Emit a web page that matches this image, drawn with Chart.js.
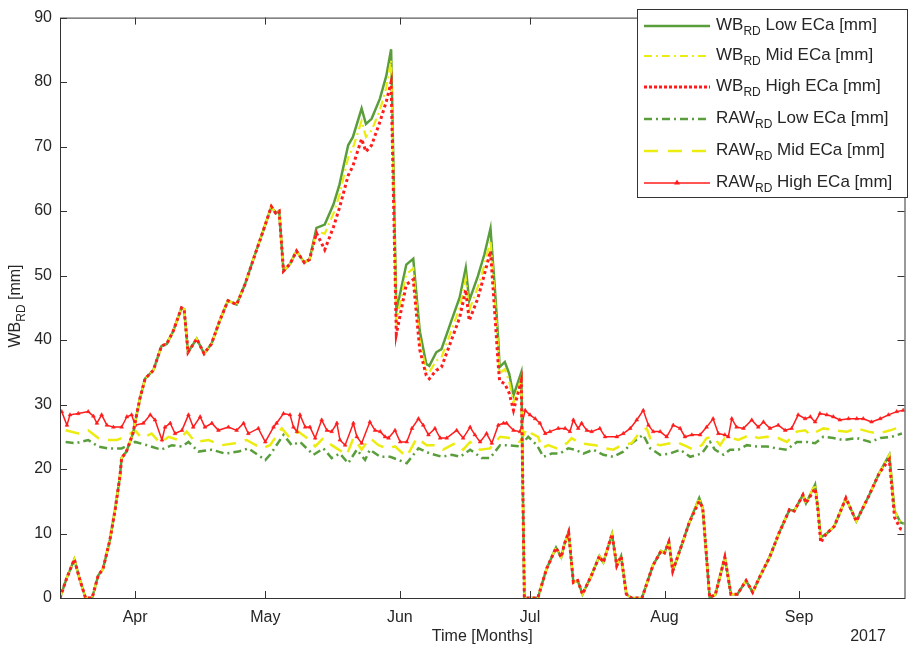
<!DOCTYPE html>
<html>
<head>
<meta charset="utf-8">
<title>WB RD</title>
<script src="https://cdn.jsdelivr.net/npm/chart.js@4.4.0/dist/chart.umd.min.js"></script>
<style>
  body { margin: 0; background: #fff; }
  canvas { display: block; }
</style>
</head>
<body>
<canvas id="wbChart" width="909" height="650"></canvas>
<script>
// x values are days counted from 1 March 2017
const monthTicks = [31, 61, 92, 122, 153, 184];
const monthLabels = ['Apr', 'May', 'Jun', 'Jul', 'Aug', 'Sep'];

// WB_RD lines (shared days)
const wbDays = [13.7, 15.2, 17.0, 18.2, 19.6, 21.1, 22.5, 23.6, 25.2, 26.4,
  27.5, 27.9, 29.0, 30.5, 32.1, 33.3, 35.2, 37.1, 38.3, 39.8,
  41.7, 42.3, 43.2, 45.2, 46.9, 48.6, 50.5, 52.4, 54.4, 56.3,
  58.5, 60.5, 62.4, 63.4, 64.2, 65.2, 66.7, 68.2, 70.0, 71.2,
  72.8, 74.7, 76.7, 78.1, 80.1, 81.2, 83.2, 84.2, 85.5, 87.4,
  88.9, 90.0, 91.2, 93.5, 95.1, 96.6, 98.1, 98.8, 100.4, 101.6,
  103.9, 105.8, 107.2, 108.0, 110.0, 111.5, 112.9, 113.9, 114.7, 115.0,
  116.2, 117.2, 118.2, 120.0, 120.7, 123.8, 125.8, 128.0, 129.2, 129.9,
  130.9, 132.0, 133.0, 134.1, 136.1, 138.0, 138.9, 140.9, 142.0, 143.0,
  144.2, 145.4, 147.8, 150.3, 152.2, 153.0, 154.0, 154.9, 156.9, 158.7,
  161.0, 161.8, 163.4, 164.7, 166.9, 168.3, 169.8, 171.8, 173.3, 175.1,
  177.2, 179.4, 181.8, 182.9, 184.9, 185.6, 187.7, 188.3, 189.0, 190.2,
  192.1, 194.8, 197.2, 200.2, 202.5, 204.8, 206.0, 207.4, 208.3];

const wbLow = [0, 3, 6, 3, 0, 0, 3.5, 4.5, 9, 13.7,
  18.8, 21.7, 22.7, 25.5, 30.9, 34, 35.3, 39.1, 39.4, 41.4,
  45, 44.8, 38.1, 40.2, 37.9, 39.4, 43, 46.1, 45.5, 48.6,
  53, 56.9, 60.7, 59.7, 60, 50.7, 51.8, 53.8, 52, 52.5,
  57.4, 57.9, 61, 64.1, 70.2, 71.5, 75.9, 73.5, 74.3, 77.4,
  81, 85.1, 44.5, 51.7, 52.6, 41.4, 36.3, 36, 38.1, 38.6,
  43, 46.6, 51.2, 46.1, 49.9, 53.3, 57.3, 48.1, 39.9, 35.8,
  36.6, 34.8, 31.4, 35, 0, 0, 4.5, 7.8, 6.3, 8.3,
  10.2, 2.4, 2.7, 0.6, 3.4, 6.5, 5.5, 9.9, 5, 6.5,
  0.6, 0, 0, 5, 7.3, 7, 8.7, 4.2, 8.1, 11.7,
  15.5, 14, 0.1, 0.5, 6.3, 0.6, 0.6, 2.7, 0.9, 3.5,
  6.3, 10.1, 13.7, 13.5, 16, 14.7, 17.6, 14.2, 9.4, 9.9,
  11.1, 15.5, 11.9, 16, 19.4, 22.2, 13.5, 11.7, 11.5];

const wbMid = [0, 3, 6, 3, 0, 0, 3.5, 4.5, 9, 13.7,
  18.8, 21.7, 22.7, 25.5, 30.9, 34, 35.3, 39.1, 39.4, 41.4,
  45, 44.8, 38.1, 40.2, 37.9, 39.4, 43, 46.1, 45.5, 48.6,
  53, 56.9, 60.7, 59.7, 60, 50.7, 51.8, 53.8, 52, 52.5,
  56.8, 56.5, 59.6, 62.5, 68.3, 69.8, 74.0, 71.5, 72.5, 75.6,
  79.2, 83.4, 43.0, 50.2, 51.1, 40.0, 35.2, 35.0, 36.8, 37.3,
  41.5, 45.0, 49.5, 44.6, 48.3, 51.6, 55.5, 46.5, 38.5, 34.8,
  35.5, 33.6, 30.3, 34.0, 0, 0, 4.5, 7.8, 6.3, 8.3,
  10.2, 2.4, 2.7, 0.6, 3.4, 6.5, 5.5, 9.9, 5, 6.5,
  0.6, 0, 0, 5, 7.3, 7, 8.7, 4.2, 8.1, 11.7,
  15.5, 14, 0.1, 0.5, 6.3, 0.6, 0.6, 2.7, 0.9, 3.5,
  6.3, 10.1, 13.7, 13.5, 16, 14.7, 17.6, 14.2, 9.4, 9.9,
  11.1, 15.5, 11.9, 16, 19.4, 22.2, 13.5, 11.7, 11.5];

const wbHigh = [0, 3, 6, 3, 0, 0, 3.5, 4.5, 9, 13.7,
  18.8, 21.7, 22.7, 25.5, 30.9, 34, 35.3, 39.1, 39.4, 41.4,
  45, 44.8, 38.1, 40.2, 37.9, 39.4, 43, 46.1, 45.5, 48.6,
  53, 56.9, 60.7, 59.7, 60, 50.7, 51.8, 53.8, 52, 52.5,
  56.6, 54.0, 57.5, 60.5, 65.5, 67.0, 71.2, 69.2, 70.2, 73.8,
  77.0, 80.0, 40.9, 48.6, 49.4, 38.5, 34.5, 34.0, 35.3, 35.8,
  40.0, 43.5, 47.8, 43.0, 46.5, 50.2, 53.8, 44.0, 36.0, 33.7,
  33.2, 31.8, 29.1, 33.7, 0, 0, 4.5, 7.8, 6.3, 8.3,
  10.2, 2.4, 2.7, 0.6, 3.4, 6.5, 5.5, 9.9, 5, 6.5,
  0.6, 0, 0, 5, 7.3, 7, 8.7, 4.2, 8.1, 11.7,
  15.0, 14, 0.1, 0.5, 6.3, 0.6, 0.6, 2.7, 0.9, 3.5,
  6.3, 10.1, 13.7, 13.5, 16, 14.7, 17.0, 14.0, 8.6, 9.9,
  11.1, 15.5, 11.9, 16, 19.4, 21.5, 12.5, 10.7, 10.5];

// RAW_RD lines
const rawHighDays = [14.1, 15.3, 16.0, 17.9, 20.2, 21.4, 22.2, 23.3, 24.5, 26.0,
  27.9, 29.1, 30.2, 31.0, 32.9, 34.5, 35.6, 37.2, 37.9, 39.1,
  40.2, 41.8, 43.3, 44.4, 46.0, 47.1, 48.7, 50.2, 52.5, 54.4,
  56.0, 57.1, 59.4, 61.0, 62.9, 63.6, 65.2, 66.7, 67.5, 68.3,
  69.0, 70.2, 71.3, 72.5, 74.0, 75.2, 76.3, 77.5, 78.2, 79.4,
  81.3, 82.1, 83.2, 85.1, 86.3, 87.5, 88.6, 89.4, 90.9, 92.1,
  93.6, 94.8, 96.3, 97.4, 98.6, 100.1, 101.3, 102.8, 105.1, 106.6,
  108.2, 109.3, 110.5, 112.0, 113.2, 114.7, 115.9, 116.6, 118.2, 119.7,
  120.9, 122.0, 123.2, 124.3, 125.5, 126.6, 128.5, 130.1, 131.2, 132.0,
  133.1, 133.9, 135.1, 136.2, 138.1, 139.3, 142.0, 143.5, 145.1, 146.6,
  148.1, 149.3, 150.4, 152.0, 153.5, 155.0, 156.6, 157.7, 159.3, 161.2,
  162.7, 164.2, 165.4, 166.9, 167.7, 168.5, 169.6, 171.2, 173.1, 174.6,
  175.8, 177.3, 179.2, 180.8, 182.3, 183.8, 185.4, 186.6, 187.7, 188.8,
  190.4, 191.9, 193.4, 195.4, 197.3, 198.8, 200.7, 202.7, 204.6, 206.5,
  208.0];
const rawHigh = [28.9, 26.8, 28.4, 28.6, 28.9, 28.2, 27.1, 28.4, 26.8, 26.5,
  26.5, 28.1, 28.4, 26.8, 27.1, 28.4, 27.6, 24.5, 26.5, 27.1,
  25.5, 26.0, 28.4, 26.5, 28.1, 26.5, 27.1, 26.0, 26.5, 26.0,
  27.1, 25.5, 26.3, 24.2, 26.5, 27.1, 28.6, 28.4, 26.5, 25.8,
  28.4, 26.5, 26.5, 24.8, 27.6, 26.0, 25.8, 27.1, 24.5, 23.7,
  27.1, 25.0, 24.0, 27.3, 26.0, 25.8, 25.0, 24.8, 26.0, 24.2,
  24.2, 26.3, 27.8, 26.8, 25.3, 26.3, 24.8, 24.8, 26.0, 24.8,
  26.5, 25.3, 24.2, 25.5, 24.0, 26.8, 27.1, 27.1, 26.0, 25.8,
  29.1, 28.4, 27.8, 27.1, 25.5, 25.8, 26.3, 26.3, 25.8, 27.6,
  26.3, 27.1, 26.0, 25.8, 26.3, 25.0, 25.0, 25.5, 26.3, 27.6,
  29.1, 26.8, 25.8, 25.8, 25.0, 26.8, 26.3, 25.0, 25.3, 25.3,
  26.5, 27.8, 25.5, 25.3, 25.0, 27.8, 26.5, 26.3, 27.6, 26.5,
  27.3, 26.3, 26.8, 26.0, 26.3, 28.4, 27.8, 28.1, 27.3, 28.6,
  28.4, 28.1, 27.6, 27.8, 27.8, 27.8, 27.3, 27.8, 28.4, 28.9,
  29.1];

const rawMidDays = [15.0, 17.9, 20.2, 22.5, 24.8, 26.8, 28.7, 31.0, 32.5, 34.8,
  36.8, 38.7, 41.0, 42.9, 44.8, 47.9, 51.0, 54.0, 56.7, 60.2,
  62.1, 64.8, 66.7, 68.6, 70.6, 72.5, 74.4, 76.3, 79.8, 81.3,
  83.2, 85.1, 87.1, 89.0, 90.9, 93.6, 95.9, 98.2, 100.1, 102.0,
  104.7, 106.6, 108.2, 110.5, 112.8, 115.1, 117.4, 119.7, 121.3, 122.4,
  123.9, 124.7, 126.2, 128.2, 130.5, 131.6, 133.5, 137.0, 139.3, 141.2,
  143.1, 145.4, 147.4, 148.9, 150.1, 152.0, 154.3, 155.8, 158.1, 159.6,
  161.6, 162.7, 164.2, 165.8, 166.9, 168.5, 170.0, 172.7, 174.6, 176.6,
  179.2, 181.2, 183.5, 185.4, 186.6, 189.6, 192.3, 195.0, 197.3, 200.0,
  202.3, 205.0, 207.3, 208.2];
const rawMid = [26.0, 25.5, 26.0, 24.8, 24.5, 24.5, 25.0, 26.0, 24.8, 25.5,
  24.0, 25.0, 24.5, 25.8, 24.2, 24.5, 23.7, 24.0, 24.5, 23.2,
  23.7, 26.3, 24.8, 25.8, 24.8, 23.5, 24.8, 23.7, 22.2, 24.8,
  23.0, 24.8, 23.7, 23.2, 23.5, 21.9, 24.8, 23.7, 23.7, 23.0,
  24.0, 23.0, 24.2, 23.0, 23.2, 25.0, 24.8, 24.2, 26.3, 25.5,
  25.0, 23.2, 23.7, 23.2, 24.0, 24.8, 24.0, 23.7, 23.2, 23.0,
  23.7, 24.0, 25.8, 26.3, 24.0, 23.7, 24.0, 24.2, 23.5, 23.0,
  23.7, 24.8, 25.0, 23.7, 24.8, 24.8, 24.5, 25.3, 24.8, 25.0,
  24.8, 24.2, 25.8, 26.0, 25.3, 26.3, 26.0, 25.8, 26.3, 25.8,
  25.5, 26.0, 26.5, 26.7];

const rawLowDays = [15.0, 17.3, 20.2, 22.5, 24.8, 27.9, 31.0, 33.7, 37.0, 39.5,
  41.8, 43.3, 45.6, 48.7, 51.7, 54.8, 57.1, 61.0, 62.1, 65.2,
  67.1, 69.0, 72.1, 74.4, 76.3, 78.2, 80.1, 82.1, 84.0, 85.1,
  87.5, 89.8, 91.7, 93.6, 96.3, 99.0, 101.7, 104.0, 105.9, 108.2,
  110.9, 112.8, 115.1, 117.0, 119.7, 121.6, 123.6, 125.1, 127.0, 128.9,
  130.8, 132.4, 134.3, 136.6, 138.9, 141.2, 143.5, 145.8, 148.1, 149.7,
  152.0, 154.3, 156.6, 158.9, 161.6, 163.5, 164.6, 166.6, 168.1, 170.0,
  172.0, 174.3, 176.6, 178.9, 181.2, 183.5, 185.8, 187.7, 189.6, 191.9,
  194.2, 197.3, 200.4, 202.7, 205.4, 207.7];
const rawLow = [24.2, 24.0, 24.5, 23.5, 23.2, 23.2, 24.2, 23.7, 23.0, 23.7,
  23.5, 24.2, 22.7, 23.0, 22.4, 22.7, 23.2, 21.4, 22.2, 25.3,
  23.7, 24.2, 22.2, 23.2, 21.7, 22.4, 20.9, 23.0, 21.4, 23.0,
  21.9, 21.9, 21.4, 20.9, 23.2, 22.4, 21.9, 22.2, 21.9, 23.0,
  21.7, 21.7, 23.7, 23.7, 23.5, 25.0, 23.7, 21.9, 22.4, 22.4,
  23.2, 23.0, 22.4, 23.0, 22.2, 21.9, 22.7, 24.2, 25.3, 23.2,
  22.2, 22.4, 23.0, 21.9, 22.4, 24.2, 23.0, 22.2, 23.0, 23.0,
  23.7, 23.5, 23.5, 23.2, 23.0, 24.2, 24.2, 24.0, 25.0, 24.8,
  24.5, 24.8, 24.2, 24.8, 25.0, 25.5];

const GREEN = '#5a9e3c';
const YELLOW = '#ecec10';
const RED = '#ff1c1c';
const FONT = "'Liberation Sans', Arial, sans-serif";
const TXT = '#262626';

const pts = (xs, ys) => xs.map((x, i) => ({ x: x, y: ys[i] }));

// legend rows: [main, sub, rest, color, width, dash, marker]
const legendRows = [
  ['WB', 'RD', ' Low ECa [mm]', GREEN, 2.5, [], false],
  ['WB', 'RD', ' Mid ECa [mm]', YELLOW, 2, [8, 4, 2, 4], false],
  ['WB', 'RD', ' High ECa [mm]', RED, 3, [3, 2], false],
  ['RAW', 'RD', ' Low ECa [mm]', GREEN, 2.5, [8, 4, 2, 4], false],
  ['RAW', 'RD', ' Mid ECa [mm]', YELLOW, 2.5, [14, 10], false],
  ['RAW', 'RD', ' High ECa [mm]', RED, 1.5, [], true]
];

function subText(ctx, x, y, main, sub, rest, size, draw) {
  ctx.font = size + 'px ' + FONT;
  const w1 = ctx.measureText(main).width;
  if (draw) ctx.fillText(main, x, y);
  ctx.font = Math.round(size * 0.72) + 'px ' + FONT;
  const w2 = ctx.measureText(sub).width;
  if (draw) ctx.fillText(sub, x + w1, y + size * 0.38);
  ctx.font = size + 'px ' + FONT;
  const w3 = ctx.measureText(rest).width;
  if (draw) ctx.fillText(rest, x + w1 + w2, y);
  return w1 + w2 + w3;
}

const frame = {
  id: 'frame',
  afterDraw(chart) {
    const { ctx, chartArea: a, scales: { x, y } } = chart;
    ctx.save();
    ctx.strokeStyle = '#333';
    ctx.lineWidth = 1;
    ctx.setLineDash([]);
    ctx.strokeRect(a.left + 0.5, a.top + 0.5, a.right - a.left, a.bottom - a.top);
    ctx.beginPath();
    x.ticks.forEach(t => {
      const px = Math.round(x.getPixelForValue(t.value)) + 0.5;
      ctx.moveTo(px, a.bottom); ctx.lineTo(px, a.bottom - 7);
      ctx.moveTo(px, a.top); ctx.lineTo(px, a.top + 7);
    });
    y.ticks.forEach(t => {
      const py = Math.round(y.getPixelForValue(t.value)) + 0.5;
      ctx.moveTo(a.left, py); ctx.lineTo(a.left + 7, py);
      ctx.moveTo(a.right, py); ctx.lineTo(a.right - 7, py);
    });
    ctx.stroke();

    // axis titles
    ctx.fillStyle = TXT;
    ctx.textBaseline = 'middle';
    ctx.textAlign = 'center';
    ctx.font = '16px ' + FONT;
    ctx.fillText('Time [Months]', (a.left + a.right) / 2, 637);
    ctx.fillText('2017', 868, 637);
    ctx.textAlign = 'left';
    ctx.save();
    ctx.translate(19, 306);
    ctx.rotate(-Math.PI / 2);
    const tw = subText(ctx, 0, 0, 'WB', 'RD', ' [mm]', 16, false);
    subText(ctx, -tw / 2, -3, 'WB', 'RD', ' [mm]', 16, true);
    ctx.restore();

    // legend
    const lx = 637, ly = 9, lw = 270, lh = 188;
    ctx.fillStyle = '#fff';
    ctx.fillRect(lx, ly, lw, lh);
    ctx.strokeStyle = '#333';
    ctx.strokeRect(lx + 0.5, ly + 0.5, lw, lh);
    const rowY = [25, 55, 86, 118, 150, 182];
    legendRows.forEach((r, i) => {
      const yy = rowY[i];
      ctx.strokeStyle = r[3];
      ctx.lineWidth = r[4];
      ctx.setLineDash(r[5]);
      ctx.beginPath();
      ctx.moveTo(644, yy + 1);
      ctx.lineTo(710, yy + 1);
      ctx.stroke();
      ctx.setLineDash([]);
      if (r[6]) {
        ctx.fillStyle = r[3];
        ctx.beginPath();
        ctx.moveTo(677, yy - 2.5);
        ctx.lineTo(680, yy + 2.5);
        ctx.lineTo(674, yy + 2.5);
        ctx.closePath();
        ctx.fill();
      }
      ctx.fillStyle = TXT;
      subText(ctx, 716, yy, r[0], r[1], r[2], 17, true);
    });
    ctx.restore();
  }
};

new Chart(document.getElementById('wbChart').getContext('2d'), {
  type: 'line',
  data: {
    datasets: [
      { label: 'WB High', data: pts(wbDays, wbHigh), borderColor: RED, borderWidth: 3, borderDash: [3, 3], pointRadius: 0 },
      { label: 'WB Mid', data: pts(wbDays, wbMid), borderColor: YELLOW, borderWidth: 2.2, borderDash: [9, 4, 2, 4], pointRadius: 0 },
      { label: 'WB Low', data: pts(wbDays, wbLow), borderColor: GREEN, borderWidth: 2.5, pointRadius: 0 },
      { label: 'RAW High', data: pts(rawHighDays, rawHigh), borderColor: RED, borderWidth: 1.5,
        pointStyle: 'triangle', pointRadius: 2.2, pointBackgroundColor: RED, pointBorderColor: RED, pointBorderWidth: 0.5 },
      { label: 'RAW Mid', data: pts(rawMidDays, rawMid), borderColor: YELLOW, borderWidth: 2.5, borderDash: [14, 9], pointRadius: 0 },
      { label: 'RAW Low', data: pts(rawLowDays, rawLow), borderColor: GREEN, borderWidth: 2.5, borderDash: [8, 4, 2, 4], pointRadius: 0 }
    ]
  },
  options: {
    responsive: false,
    animation: false,
    devicePixelRatio: 1,
    layout: { padding: { left: 0, right: 4, top: 15, bottom: 0 } },
    plugins: { legend: { display: false }, tooltip: { enabled: false } },
    elements: { line: { tension: 0, fill: false } },
    scales: {
      x: {
        type: 'linear',
        min: 13.7,
        max: 208.3,
        grid: { display: false, drawTicks: false },
        border: { display: false },
        afterBuildTicks: s => { s.ticks = monthTicks.map(v => ({ value: v })); },
        afterFit: s => { s.height = 52; },
        ticks: {
          autoSkip: false,
          maxRotation: 0,
          padding: 10,
          color: TXT,
          font: { family: FONT, size: 16 },
          callback: v => monthLabels[monthTicks.indexOf(v)]
        }
      },
      y: {
        min: 0,
        max: 90,
        grid: { display: false, drawTicks: false },
        border: { display: false },
        afterFit: s => { s.width = 60; },
        ticks: {
          stepSize: 10,
          padding: 8,
          color: TXT,
          font: { family: FONT, size: 16 }
        }
      }
    }
  },
  plugins: [frame]
});
</script>
</body>
</html>
